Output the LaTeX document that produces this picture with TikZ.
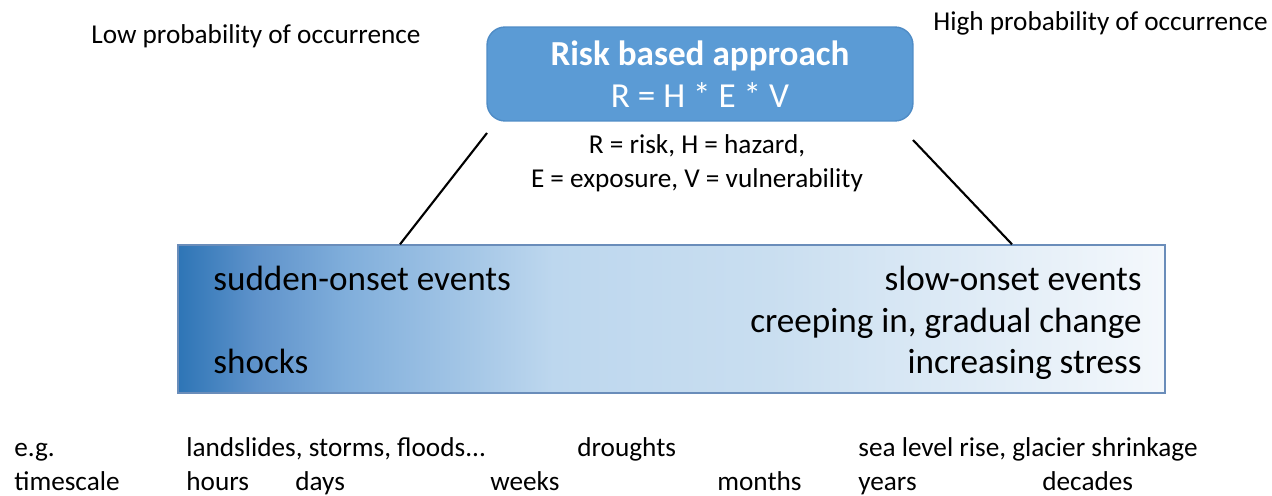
\documentclass[tikz,border=0pt]{standalone}
\usepackage{fontspec}
\setmainfont{Carlito}
\usetikzlibrary{positioning}
\definecolor{riskblue}{HTML}{5B9BD5}
\definecolor{riskedge}{HTML}{4F8CC6}
\definecolor{onsetdark}{HTML}{2E75B6}
\definecolor{onsetdeep}{HTML}{5F93CB}
\definecolor{onsetmid}{HTML}{80AEDB}
\definecolor{onsetlight}{HTML}{BDD7EE}
\definecolor{onsetsoft}{HTML}{C9DEF0}
\definecolor{onsetpale}{HTML}{F4F8FC}
\definecolor{onsetedge}{HTML}{6A8DBA}
\pgfdeclarehorizontalshading{onsetfade}{100bp}{color(0bp)=(onsetdark); color(25bp)=(onsetdark); color(29bp)=(onsetdeep); color(33.5bp)=(onsetmid); color(44bp)=(onsetlight); color(55bp)=(onsetsoft); color(75bp)=(onsetpale); color(100bp)=(onsetpale)}
\tikzstyle{riskbox}=[rectangle, rounded corners=0.36cm, minimum width=8.52cm, minimum height=1.88cm, draw=riskedge, fill=riskblue, line width=0.8pt]
\tikzstyle{onsetbox}=[rectangle, minimum width=19.74cm, minimum height=2.96cm, draw=onsetedge, shading=onsetfade, line width=0.8pt]
\tikzstyle{small}=[inner sep=0, font=\fontsize{15.5}{18}\selectfont]
\tikzstyle{big}=[inner sep=0, font=\fontsize{20}{24}\selectfont]
\tikzstyle{link}=[line width=1.2pt]

\begin{document}
\begin{tikzpicture}[x=0.02cm,y=-0.02cm]
\useasboundingbox (0,0) rectangle (1272,496);

% top box with the formula
\node[riskbox] (risk) at (700,74) {};
\node[big,white,anchor=base] (title) at (700,66) {\bfseries Risk based approach};
\node[big,white,anchor=base] (formula) at (700,108) {R = H * E * V};
\node[small,anchor=base] (legend1) at (697,154) {R = risk, H = hazard,};
\node[small,anchor=base] (legend2) at (697,188) {E = exposure, V = vulnerability};

\node[small,anchor=base west] (low) at (91,44) {Low probability of occurrence};
\node[small,anchor=base east] (high) at (1268,31) {High probability of occurrence};

% the shaded band
\node[onsetbox] (onset) at (671.5,319) {};
\node[big,anchor=base west] (sudden) at (213,291) {sudden-onset events};
\node[big,anchor=base west] (shocks) at (213,374) {shocks};
\node[big,anchor=base east] (slow) at (1142,291) {slow-onset events};
\node[big,anchor=base east] (creep) at (1142,333) {creeping in, gradual change};
\node[big,anchor=base east] (stress) at (1142,374) {increasing stress};

\coordinate (la) at (487,133);
\coordinate (ra) at (913,140);
\draw[link] (la)--(onset.north west-|400,0);
\draw[link] (ra)--(onset.north west-|1012,0);

% examples and timescale
\node[small,anchor=base west] (eg) at (14,457) {e.g.};
\foreach \x/\t in {186/{landslides, storms, floods...},577/droughts,858/{sea level rise, glacier shrinkage}}{
	\node[small,anchor=base west] (eg\x) at (\x,457) {\t};}
\node[small,anchor=base west] (ts) at (14,491) {timescale};
\foreach \x/\t in {186/hours,295/days,490/weeks,717/months,858/years,1042/decades}{
	\node[small,anchor=base west] (ts\x) at (\x,491) {\t};}
\end{tikzpicture}
\end{document}
